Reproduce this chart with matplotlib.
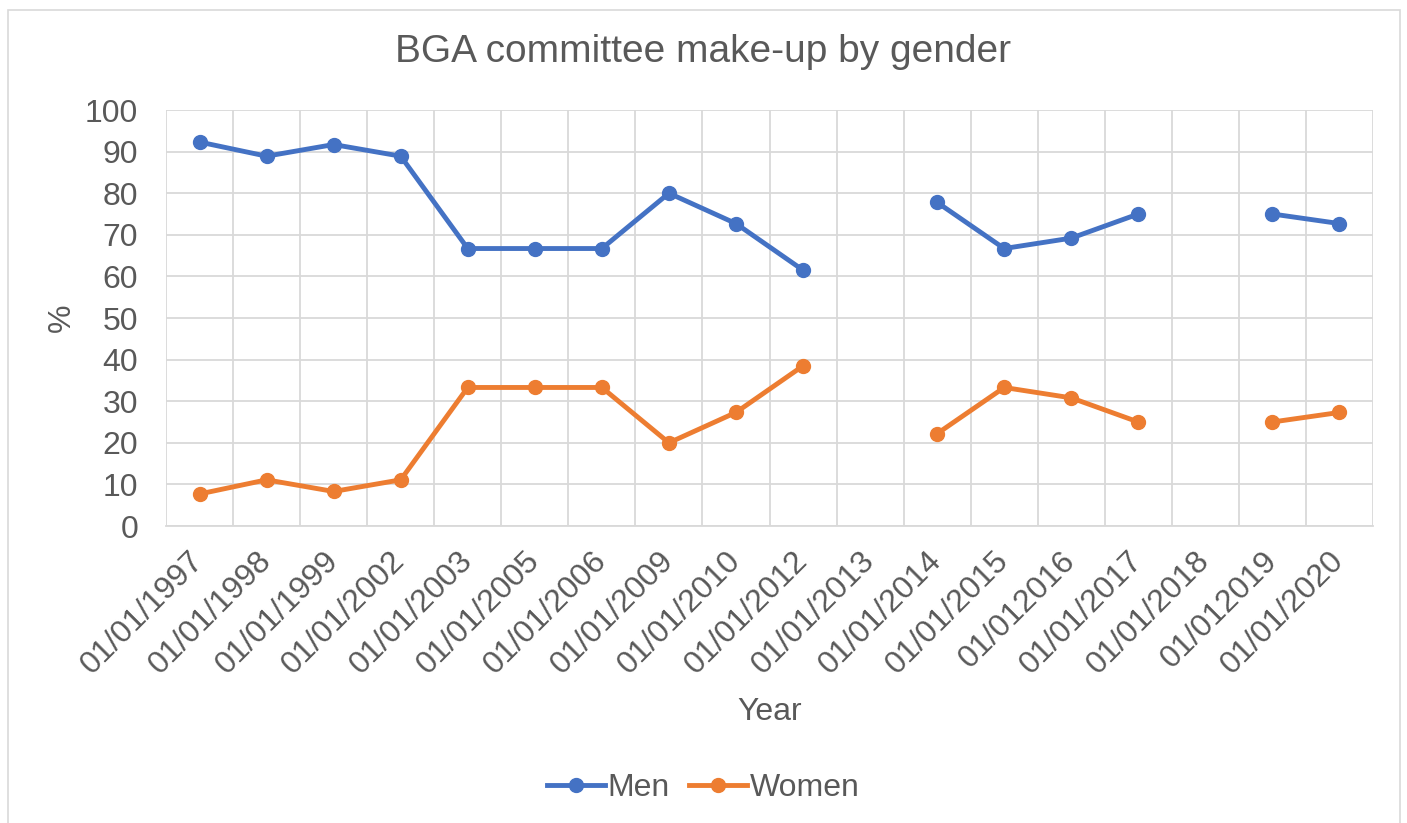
import numpy as np
import matplotlib
matplotlib.use("Agg")
import matplotlib.pyplot as plt
from matplotlib.patches import Rectangle

plt.rcParams['font.family'] = ['Liberation Sans', 'DejaVu Sans']

years = ["01/01/1997", "01/01/1998", "01/01/1999", "01/01/2002", "01/01/2003",
         "01/01/2005", "01/01/2006", "01/01/2009", "01/01/2010", "01/01/2012",
         "01/01/2013", "01/01/2014", "01/01/2015", "01/012016", "01/01/2017",
         "01/01/2018", "01/012019", "01/01/2020"]
men = [92.3, 88.9, 91.7, 88.9, 66.7, 66.7, 66.7, 80.0, 72.7, 61.5,
       np.nan, 77.8, 66.7, 69.2, 75.0, np.nan, 75.0, 72.7]
women = [7.7, 11.1, 8.3, 11.1, 33.3, 33.3, 33.3, 20.0, 27.3, 38.5,
         np.nan, 22.2, 33.3, 30.8, 25.0, np.nan, 25.0, 27.3]

txt = '#595959'
grid = '#D9D9D9'
fs = 23

fig = plt.figure(figsize=(14.07, 8.23), dpi=100)
ax = fig.add_axes([166/1407, 1-526/823, (1373-166)/1407, (526-110)/823])

# chart border
fig.patches.append(Rectangle((8/1407, -0.01), (1400-8)/1407, 1-10/823+0.01,
                             transform=fig.transFigure, fill=False,
                             edgecolor=grid, linewidth=1.2))

x = np.arange(len(years))
ax.plot(x, men, color='#4472C4', lw=3.5, marker='o', ms=10, label='Men')
ax.plot(x, women, color='#ED7D31', lw=3.5, marker='o', ms=10, label='Women')

ax.set_xlim(-0.5, len(years) - 0.5)
ax.set_ylim(0, 100)
ax.set_yticks(range(0, 101, 10))
ax.set_xticks(x)
ax.set_xticklabels(years, rotation=45, ha='right', va='center',
                   rotation_mode='anchor')
ax.set_xticks(np.arange(-0.5, len(years), 1), minor=True)
ax.grid(True, which='minor', axis='x', color=grid, lw=1.3)
ax.grid(True, which='major', axis='y', color=grid, lw=1.3)
ax.tick_params(axis='both', which='both', length=0, labelsize=fs, colors=txt)
ax.tick_params(axis='x', pad=22)
ax.tick_params(axis='y', pad=20)
for s in ax.spines.values():
    s.set_visible(False)
ax.spines['bottom'].set_visible(True)
ax.spines['bottom'].set_color(grid)
ax.spines['bottom'].set_linewidth(1.3)

ax.set_xlabel("Year", fontsize=fs, color=txt)
ax.xaxis.set_label_coords(0.5, -(712-526)/416, transform=ax.transAxes)
ax.xaxis.label.set_va('center')
ax.set_ylabel("%", fontsize=fs, color=txt)
ax.yaxis.set_label_coords(-(166-62)/1207, 0.5, transform=ax.transAxes)
ax.yaxis.label.set_va('center')
fig.text(0.5, 1-52/823, "BGA committee make-up by gender", fontsize=28,
         color=txt, ha='center', va='center')

fig.legend(loc='center', bbox_to_anchor=(0.5, 1-788/823), ncol=2, frameon=False,
           fontsize=fs, labelcolor=txt, handlelength=1.8, handletextpad=0.1,
           columnspacing=0.6)

fig.savefig("out.png", dpi=100)
